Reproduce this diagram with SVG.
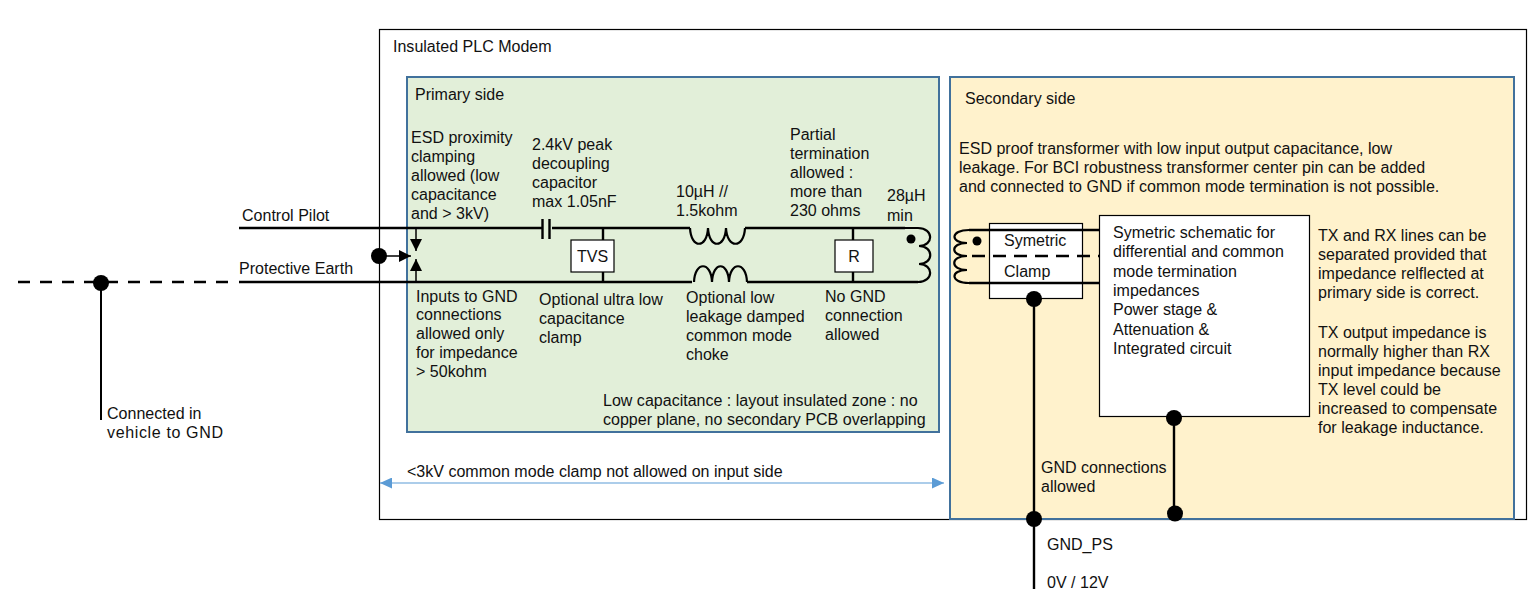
<svg xmlns="http://www.w3.org/2000/svg" width="1533" height="609" viewBox="0 0 1533 609">
<style>
text{font-family:"Liberation Sans",Arial,sans-serif;font-size:16.050px;fill:#111}
.w{fill:none;stroke:#000;stroke-width:2.4}
.t{fill:none;stroke:#000;stroke-width:1.5}
.c{fill:none;stroke:#000;stroke-width:2.2}
.box{fill:#fff;stroke:#000;stroke-width:1.2}
.zone{stroke:#41719c;stroke-width:2}
.dot{fill:#000}
</style>
<defs>
<marker id="ah" markerWidth="12" markerHeight="12" refX="12" refY="6" orient="auto" markerUnits="userSpaceOnUse"><path d="M0 0L12 6L0 12Z" fill="#000"/></marker>
<marker id="blue" markerWidth="12" markerHeight="11" refX="12" refY="5.500" orient="auto-start-reverse" markerUnits="userSpaceOnUse"><path d="M0 0L12 5.500L0 11Z" fill="#5b9bd5"/></marker>
</defs>
<g id="modem"><rect x="379.500" y="29.500" width="1147" height="490" fill="#fff" stroke="#000" stroke-width="1.200"/><text x="393" y="52">Insulated PLC Modem</text></g>
<g id="primary"><rect x="407" y="77" width="532" height="355" fill="#e2efd9" class="zone"/><text x="415" y="100">Primary side</text></g>
<g id="secondary"><rect x="950" y="77" width="564" height="442" fill="#fff2cc" class="zone"/><text x="965" y="104">Secondary side</text></g>
<g id="connectors">
<path class="w" d="M18 282H232" stroke-dasharray="12 10"/>
<path class="w" d="M239 228H542M552 228H690M745 228H905M239 282H692M747 282H918"/>
<path class="w" d="M542.500 219V239M549.500 219V239"/>
<path class="c" d="M690 228c1 21 17 21 18 0c1 21 17 21 18 0c1 21 18 21 19 0"/>
<path class="c" d="M694 282c1-21 17-21 18 0c1-21 16-21 17 0c1-21 17-21 18 0"/>
<path class="c" d="M905 228h13c16 0 16 18 1 18c15 0 15 18 0 18c15 0 15 18-1 18"/>
<path class="w" d="M603 228V240M603 271V282M853 228V240M853 271V282" stroke-width="1.800"/>
<path class="w" d="M101 282V420" style="stroke-width:2"/>
<path class="t" d="M416 229V251" marker-end="url(#ah)"/>
<path class="t" d="M416 282V259" marker-end="url(#ah)"/>
<path class="t" d="M380 256H411" marker-end="url(#ah)"/>
<path class="w" d="M969 230H1099M969 283H1099"/>
<path class="w" d="M972 256H1099" stroke-dasharray="13 8"/>
<path class="c" d="M969 230c-19 0-19 13-2 13c-17 0-17 13 0 13c-17 0-17 14 0 14c-17 0-17 13 2 13"/>
<path class="w" d="M1034 298V589M1174 418V514"/>
<path d="M380 483H944" stroke="#5b9bd5" stroke-width="1.200" marker-start="url(#blue)" marker-end="url(#blue)"/>
</g>
<g id="tvs"><rect class="box" x="571" y="240" width="43" height="32"/><text x="592.500" y="262" text-anchor="middle">TVS</text></g>
<g id="r"><rect class="box" x="835" y="240" width="38" height="32"/><text x="854" y="262" text-anchor="middle">R</text></g>
<g id="clamp"><rect x="989.500" y="223.500" width="93" height="75" fill="#fff" stroke="#000" stroke-width="1.200"/>
<path class="w" d="M989 230H1083M989 283H1083"/><path class="w" d="M993 256H1083" stroke-dasharray="13 8"/>
<text x="1004" y="246">Symetric</text><text x="1004" y="277">Clamp</text></g>
<g id="schematic"><rect class="box" x="1099.500" y="215.500" width="210" height="201"/>
<text x="1113" y="238">Symetric schematic for</text><text x="1113" y="257">differential and common</text><text x="1113" y="277">mode termination</text><text x="1113" y="296">impedances</text><text x="1113" y="315">Power stage &amp;</text><text x="1113" y="335">Attenuation &amp;</text><text x="1113" y="354">Integrated circuit</text></g>
<g id="junctions">
<circle class="dot" cx="101" cy="283" r="8"/><circle class="dot" cx="379" cy="256" r="8"/>
<circle class="dot" cx="911" cy="239" r="4.500"/><circle class="dot" cx="977" cy="241" r="4.500"/>
<circle class="dot" cx="1034" cy="299" r="8"/><circle class="dot" cx="1174" cy="418" r="8"/>
<circle class="dot" cx="1034" cy="519" r="8"/><circle class="dot" cx="1175" cy="513.500" r="8"/>
</g>
<g id="labels">
<text x="242" y="221">Control Pilot</text><text x="239" y="274">Protective Earth</text>
<text x="107" y="419">Connected in</text><text x="107" y="438" textLength="116">vehicle to GND</text>
<text x="411" y="143">ESD proximity</text><text x="411" y="162">clamping</text><text x="411" y="181">allowed (low</text><text x="411" y="200">capacitance</text><text x="411" y="219">and &gt; 3kV)</text>
<text x="532" y="150">2.4kV peak</text><text x="532" y="169">decoupling</text><text x="532" y="188">capacitor</text><text x="532" y="207">max 1.05nF</text>
<text x="676" y="197">10µH //</text><text x="676" y="216">1.5kohm</text>
<text x="790" y="140">Partial</text><text x="790" y="159">termination</text><text x="790" y="178">allowed :</text><text x="790" y="197">more than</text><text x="790" y="216">230 ohms</text>
<text x="887" y="201">28µH</text><text x="887" y="221">min</text>
<text x="416" y="302">Inputs to GND</text><text x="416" y="320">connections</text><text x="416" y="339">allowed only</text><text x="416" y="358">for impedance</text><text x="416" y="377">&gt; 50kohm</text>
<text x="539" y="305">Optional ultra low</text><text x="539" y="324">capacitance</text><text x="539" y="343">clamp</text>
<text x="686" y="303">Optional low</text><text x="686" y="322">leakage damped</text><text x="686" y="341">common mode</text><text x="686" y="360">choke</text>
<text x="825" y="302">No GND</text><text x="825" y="321">connection</text><text x="825" y="340">allowed</text>
<text x="603" y="406">Low capacitance : layout insulated zone : no</text><text x="603" y="425">copper plane, no secondary PCB overlapping</text>
<text x="407" y="477">&lt;3kV common mode clamp not allowed on input side</text>
<text x="959" y="154">ESD proof transformer with low input output capacitance, low</text><text x="959" y="173">leakage. For BCI robustness transformer center pin can be added</text><text x="959" y="192">and connected to GND if common mode termination is not possible.</text>
<text x="1318" y="241">TX and RX lines can be</text><text x="1318" y="260">separated provided that</text><text x="1318" y="279">impedance relflected at</text><text x="1318" y="298">primary side is correct.</text>
<text x="1318" y="338">TX output impedance is</text><text x="1318" y="357">normally higher than RX</text><text x="1318" y="376">input impedance because</text><text x="1318" y="395">TX level could be</text><text x="1318" y="414">increased to compensate</text><text x="1318" y="433">for leakage inductance.</text>
<text x="1041" y="473">GND connections</text><text x="1041" y="492">allowed</text>
<text x="1047" y="550">GND_PS</text><text x="1047" y="588">0V / 12V</text>
</g>
</svg>
